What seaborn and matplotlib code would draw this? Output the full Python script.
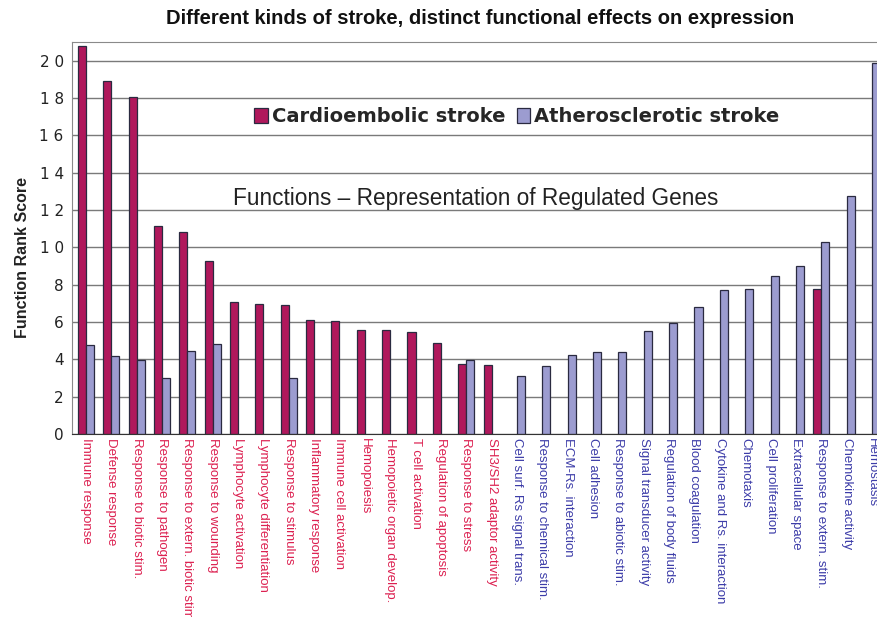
import pandas as pd
import matplotlib
matplotlib.use("Agg")
import matplotlib.pyplot as plt
import seaborn as sns

# Data
functions = [
    "Immune response", "Defense response", "Response to biotic stim.",
    "Response to pathogen", "Response to extern. biotic stim", "Response to wounding",
    "Lymphocyte activation", "Lymphocyte differentiation", "Response to stimulus",
    "Inflammatory response", "Immune cell activation", "Hemopoiesis",
    "Hemopoietic organ develop.", "T cell activation", "Regulation of apoptosis",
    "Response to stress", "SH3/SH2 adaptor activity", "Cell surf. Rs signal trans.",
    "Response to chemical stim.", "ECM-Rs. interaction", "Cell adhesion",
    "Response to abiotic stim.", "Signal transducer activity", "Regulation of body fluids",
    "Blood coagulation", "Cytokine and Rs. interaction", "Chemotaxis",
    "Cell proliferation", "Extracellular space", "Response to extern. stim.",
    "Chemokine activity", "Hemostasis",
]
cardioembolic = [20.8, 18.9, 18.05, 11.15, 10.8, 9.25, 7.05, 6.95, 6.9, 6.1, 6.05,
                 5.55, 5.55, 5.47, 4.9, 3.73, 3.7, None, None, None, None, None,
                 None, None, None, None, None, None, None, 7.75, None, None]
atherosclerotic = [4.75, 4.2, 3.96, 2.98, 4.45, 4.82, None, None, 3.02, None, None,
                   None, None, None, None, 3.96, None, 3.12, 3.64, 4.21, 4.37, 4.37,
                   5.52, 5.97, 6.83, 7.71, 7.75, 8.45, 9.02, 10.28, 12.75, 19.85]
n_cardio_labels = 17  # first 17 functions are labelled in red
y_ticks = [0, 2, 4, 6, 8, 10, 12, 14, 16, 18, 20]
y_tick_labels = ["0", "2", "4", "6", "8", "1 0", "1 2", "1 4", "1 6", "1 8", "2 0"]

series = ["Cardioembolic stroke", "Atherosclerotic stroke"]
rows = []
for f, c, a in zip(functions, cardioembolic, atherosclerotic):
    if c is not None:
        rows.append((f, series[0], c))
    if a is not None:
        rows.append((f, series[1], a))
df = pd.DataFrame(rows, columns=["function", "stroke", "score"])

sns.set_style("white")
plt.rcParams["font.family"] = ["Liberation Sans", "DejaVu Sans"]

red = "#B0185C"
blue = "#9C9CD0"
red_txt = "#DC2050"
blue_txt = "#3C3CA8"

fig = plt.figure(figsize=(8.77, 6.17), dpi=100)
ax = fig.add_axes([72 / 877, 183 / 617, 805 / 877, 392 / 617])

sns.barplot(data=df, x="function", y="score", hue="stroke", order=functions,
            hue_order=series, palette=[red, blue], saturation=1, width=0.64,
            edgecolor="#2a2a40", linewidth=0.9, ax=ax)

ax.set_xlim(-0.55, 31.2)
ax.set_ylim(0, 21)
ax.set_yticks(y_ticks)
ax.set_yticklabels(y_tick_labels, family="DejaVu Sans", fontsize=11, color="#222222")
ax.yaxis.grid(True, color="#7a7a7a", linewidth=1)
ax.set_axisbelow(True)
ax.tick_params(axis="y", length=3, color="#555555", pad=3)
ax.tick_params(axis="x", length=0, pad=3)

ax.set_xticks(range(len(functions)))
ax.set_xticklabels(functions, rotation=270, ha="center", va="top", fontsize=9.5)
for i, lab in enumerate(ax.get_xticklabels()):
    lab.set_color(red_txt if i < n_cardio_labels else blue_txt)

ax.set_xlabel("")
ax.set_ylabel("Function Rank Score", fontsize=11.5, fontweight="bold", color="#222222")
ax.yaxis.set_label_coords(-0.052, 0.4515)

for side in ["top", "left"]:
    ax.spines[side].set_color("#8a8a8a")
ax.spines["bottom"].set_color("#333333")
ax.spines["right"].set_visible(False)

handles, labels = ax.get_legend_handles_labels()
ax.legend(handles, labels, loc="center left",
          bbox_to_anchor=(254 / 877, 1 - 117 / 617), bbox_transform=fig.transFigure,
          ncol=2, frameon=False, borderpad=0, borderaxespad=0,
          handlelength=0.7, handleheight=0.8, handletextpad=0.2, columnspacing=0.6,
          prop={"family": "DejaVu Sans", "weight": "bold", "size": 14})

fig.text(476 / 877, 1 - 198 / 617, "Functions \u2013 Representation of Regulated Genes",
         ha="center", va="center", fontsize=16.3, color="#222222")
fig.text(480 / 877, 1 - 18 / 617,
         "Different kinds of stroke, distinct functional effects on expression",
         ha="center", va="center", fontsize=14.5, fontweight="bold", color="#111111")

fig.savefig("out.png", dpi=100)
